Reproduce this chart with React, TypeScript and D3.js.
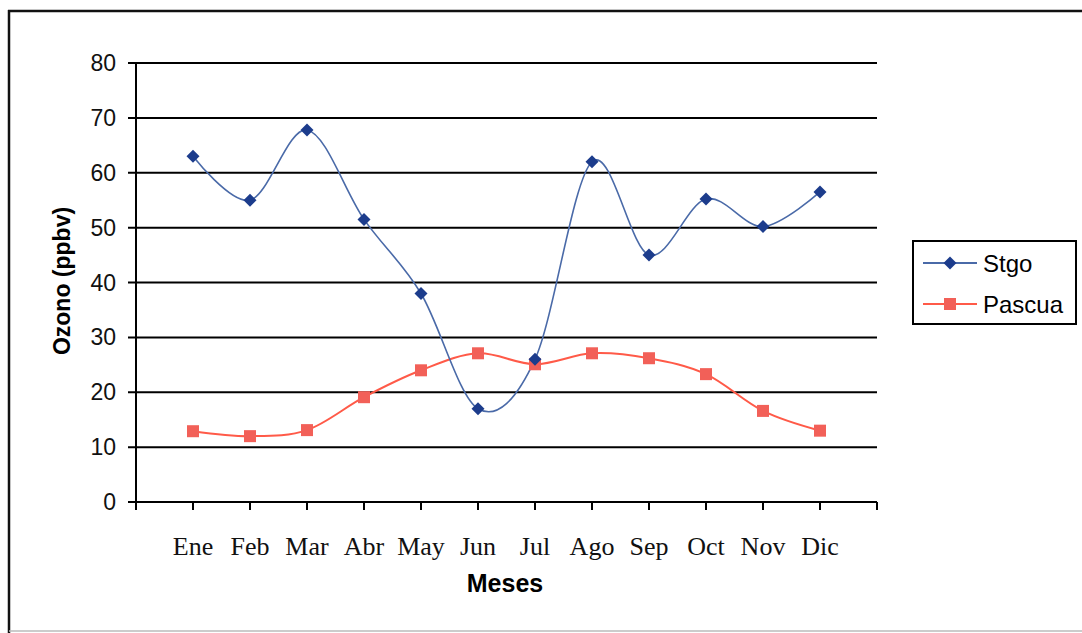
import React from "react";
import * as d3 from "d3";

const months = ["Ene", "Feb", "Mar", "Abr", "May", "Jun", "Jul", "Ago", "Sep", "Oct", "Nov", "Dic"];
const stgo = [63, 55, 67.8, 51.5, 38, 17, 26, 62, 45, 55.2, 50.2, 56.5];
const pascua = [12.9, 12, 13.1, 19.1, 24, 27.1, 25.1, 27.1, 26.2, 23.3, 16.6, 13];
const yTicks = [0, 10, 20, 30, 40, 50, 60, 70, 80];

const W = 1082;
const H = 633;
const left = 136;
const right = 877;
const top = 63;
const bottom = 502;

export default function App() {
  const x = d3.scalePoint<string>().domain(months).range([left, right]).padding(1);
  const y = d3.scaleLinear().domain([0, 80]).range([bottom, top]);
  const line = d3
    .line<number>()
    .x((_, i) => x(months[i]) as number)
    .y((d) => y(d))
    .curve(d3.curveCatmullRom.alpha(0));
  const step = x.step();
  const tickXs = d3.range(0, months.length + 2).map((k) => left + k * step);

  const diamond = (cx: number, cy: number, r: number) =>
    `M${cx},${cy - r}L${cx + r},${cy}L${cx},${cy + r}L${cx - r},${cy}Z`;

  const stgoLine = "#4a6aa8";
  const stgoMark = "#1c3c8c";
  const pasLine = "#ff5a48";
  const pasMark = "#f26058";

  return (
    <svg
      width={W}
      height={H}
      style={{ position: "absolute", left: 0, top: 0, background: "#fff" }}
    >
      {/* outer frame */}
      <line x1={8} x2={W} y1={11} y2={11} stroke="#111" strokeWidth={2.5} />
      <line x1={9} x2={9} y1={10} y2={H} stroke="#111" strokeWidth={2.5} />
      <line x1={9} x2={W} y1={631} y2={631} stroke="#bbb" strokeWidth={1.5} />

      {/* gridlines + y ticks */}
      {yTicks.map((t) => (
        <g key={t}>
          <line x1={128} x2={right} y1={y(t)} y2={y(t)} stroke="#000" strokeWidth={2} />
          <text
            x={116}
            y={y(t) + 8}
            textAnchor="end"
            fontFamily="Liberation Sans, Arial, sans-serif"
            fontSize={23}
            fill="#111"
          >
            {t}
          </text>
        </g>
      ))}
      {/* y axis */}
      <line x1={left} x2={left} y1={top} y2={bottom + 8} stroke="#000" strokeWidth={2} />
      {/* x axis ticks */}
      {tickXs.map((tx, i) => (
        <line key={i} x1={tx} x2={tx} y1={bottom} y2={bottom + 8} stroke="#000" strokeWidth={2} />
      ))}
      {months.map((m) => (
        <text
          key={m}
          x={x(m)}
          y={555}
          textAnchor="middle"
          fontFamily="Liberation Serif, Times New Roman, serif"
          fontSize={26}
          fill="#111"
        >
          {m}
        </text>
      ))}

      {/* axis titles */}
      <text
        x={505}
        y={592}
        textAnchor="middle"
        fontFamily="Liberation Sans, Arial, sans-serif"
        fontWeight="bold"
        fontSize={25}
        fill="#000"
      >
        Meses
      </text>
      <text
        transform={`translate(70,281) rotate(-90)`}
        textAnchor="middle"
        fontFamily="Liberation Sans, Arial, sans-serif"
        fontWeight="bold"
        fontSize={23}
        fill="#000"
      >
        Ozono (ppbv)
      </text>

      {/* series */}
      <path d={line(pascua) || ""} fill="none" stroke={pasLine} strokeWidth={2} />
      <path d={line(stgo) || ""} fill="none" stroke={stgoLine} strokeWidth={1.6} />
      {pascua.map((v, i) => (
        <rect
          key={"p" + i}
          x={(x(months[i]) as number) - 6}
          y={y(v) - 6}
          width={12}
          height={12}
          fill={pasMark}
        />
      ))}
      {stgo.map((v, i) => (
        <path key={"s" + i} d={diamond(x(months[i]) as number, y(v), 6.5)} fill={stgoMark} />
      ))}

      {/* legend */}
      <rect x={913} y={241} width={163} height={83} fill="#fff" stroke="#000" strokeWidth={2} />
      <line x1={923} x2={977} y1={263} y2={263} stroke={stgoLine} strokeWidth={2} />
      <path d={diamond(950, 263, 6.5)} fill={stgoMark} />
      <text x={983} y={272} fontFamily="Liberation Sans, Arial, sans-serif" fontSize={24} fill="#000">
        Stgo
      </text>
      <line x1={923} x2={977} y1={304} y2={304} stroke={pasLine} strokeWidth={2} />
      <rect x={944} y={298} width={12} height={12} fill={pasMark} />
      <text x={983} y={313} fontFamily="Liberation Sans, Arial, sans-serif" fontSize={24} fill="#000">
        Pascua
      </text>
    </svg>
  );
}
